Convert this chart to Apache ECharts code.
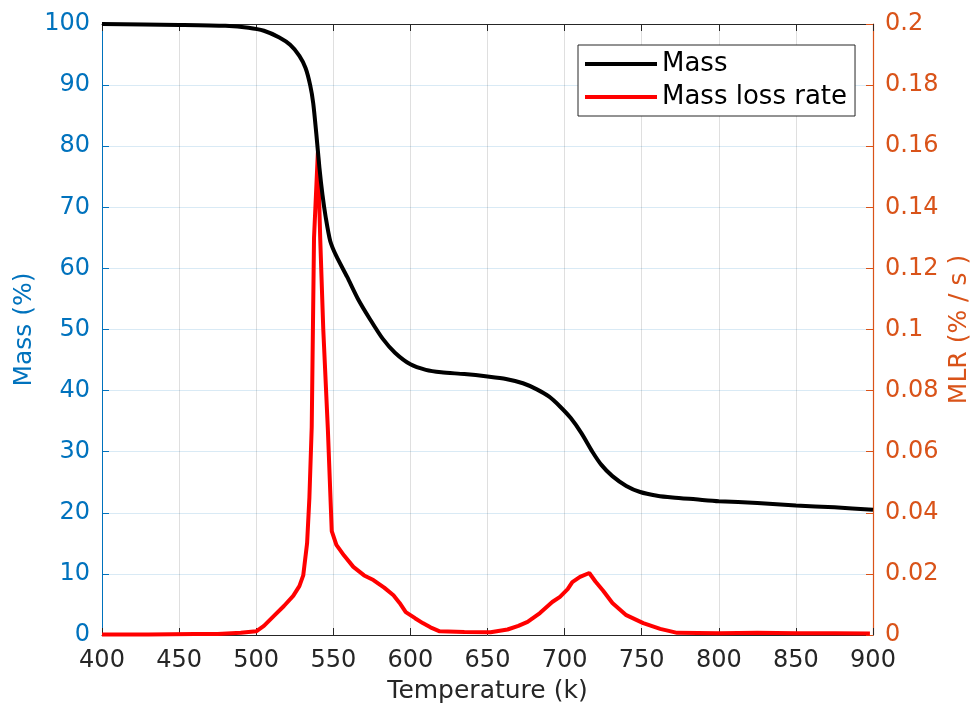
<!DOCTYPE html>
<html>
<head>
<meta charset="utf-8">
<script src="https://cdn.jsdelivr.net/npm/echarts@6/dist/echarts.min.js"></script>
<style>html,body{margin:0;padding:0;background:#fff;}#c{width:975px;height:706px;}</style>
</head>
<body>
<div id="c"></div>
<script>
// Mass curve (Temperature K, Mass %)
const massT   = [400,450,480,495,505,515,522,528,532,535,537,539,541,543,545,548,552,559,566,574,582,590,600,610,620,635,650,662,673,682,690,697,704,711,718,724,731,740,749,760,770,785,800,825,850,875,900];
const massVal = [100,99.85,99.7,99.4,98.9,97.8,96.6,94.8,92.8,90,87,82,76.5,72,68.5,64.5,62,58.6,55,51.6,48.5,46.2,44.3,43.4,43,42.7,42.3,41.9,41.2,40.2,39,37.4,35.5,33,30,27.8,26,24.4,23.4,22.8,22.5,22.2,21.9,21.6,21.2,20.9,20.5];
// Mass loss rate (Temperature K, MLR %/s)
const mlrT   = [400,430,460,475,490,500,505,512,518,524,528,530.5,533,534.5,536,537.5,540,541.5,543.5,546.5,549,552,557,563,570,576,583,589,593,597,603,608,613,619,635,652,663,670,676,684,692,697,702,705,710,716,720,725,731,740,751,762,773,800,825,850,875,898];
const mlrVal = [0.0002,0.0002,0.0003,0.0003,0.0007,0.0012,0.003,0.0065,0.0095,0.0128,0.016,0.0195,0.03,0.045,0.068,0.13,0.158,0.13,0.1,0.067,0.034,0.0295,0.026,0.0223,0.0195,0.018,0.0155,0.013,0.0105,0.0075,0.0055,0.0039,0.0025,0.0012,0.001,0.0009,0.0018,0.003,0.0043,0.0072,0.0108,0.0125,0.015,0.0173,0.019,0.0203,0.0175,0.0145,0.0105,0.0065,0.0039,0.002,0.0007,0.0006,0.0007,0.0006,0.0006,0.0005];
const xTicks = [400,450,500,550,600,650,700,750,800,850,900];
const seriesNames = ['Mass','Mass loss rate'];

const FONT = 'DejaVu Sans';
const BLUE = '#0072BD', ORANGE = '#D95319', DARK = '#262626';

const chart = echarts.init(document.getElementById('c'), null, {renderer:'canvas'});
chart.setOption({
  animation: false,
  backgroundColor: '#fff',
  grid: {left: 102, right: 102, top: 24, bottom: 71, containLabel: false, outerBoundsMode: 'none'},
  legend: {
    data: seriesNames,
    orient: 'vertical',
    left: 578, top: 45,
    padding: [6, 8, 6, 7],
    itemGap: 7,
    itemWidth: 72, itemHeight: 4,
    icon: 'rect',
    backgroundColor: '#fff',
    borderColor: DARK, borderWidth: 1,
    textStyle: {fontFamily: FONT, fontSize: 26, color: '#000'}
  },
  xAxis: [{
    type: 'value', min: xTicks[0], max: xTicks[xTicks.length-1], interval: 50,
    position: 'bottom',
    name: 'Temperature (k)', nameLocation: 'middle', nameGap: 44, nameMoveOverlap: false,
    nameTextStyle: {fontFamily: FONT, fontSize: 25, color: DARK},
    axisLine: {show: true, onZero: false, lineStyle: {color: DARK, width: 1}},
    axisTick: {show: true, inside: true, length: 7, lineStyle: {color: DARK}},
    axisLabel: {fontFamily: FONT, fontSize: 24, color: DARK, margin: 14},
    splitLine: {show: true, showMinLine: false, showMaxLine: false, lineStyle: {color: 'rgba(38,38,38,0.15)', width: 1}}
  },{
    type: 'value', min: xTicks[0], max: xTicks[xTicks.length-1], interval: 50,
    position: 'top',
    axisLine: {show: true, onZero: false, lineStyle: {color: DARK, width: 1}},
    axisTick: {show: true, inside: true, length: 7, lineStyle: {color: DARK}},
    axisLabel: {show: false},
    splitLine: {show: false}
  }],
  yAxis: [{
    type: 'value', min: 0, max: 100, interval: 10, position: 'left',
    name: 'Mass (%)', nameLocation: 'middle', nameGap: 65, nameRotate: 90, nameMoveOverlap: false,
    nameTextStyle: {fontFamily: FONT, fontSize: 25, color: BLUE},
    axisLine: {show: true, onZero: false, lineStyle: {color: BLUE, width: 1}},
    axisTick: {show: true, inside: true, length: 7, lineStyle: {color: BLUE}},
    axisLabel: {fontFamily: FONT, fontSize: 24, color: BLUE, margin: 12},
    splitLine: {show: true, showMinLine: false, showMaxLine: false, lineStyle: {color: 'rgba(0,114,189,0.15)', width: 1}}
  },{
    type: 'value', min: 0, max: 0.2, interval: 0.02, position: 'right',
    name: 'MLR (% / s )', nameLocation: 'middle', nameGap: 74, nameRotate: 90, nameMoveOverlap: false,
    nameTextStyle: {fontFamily: FONT, fontSize: 25, color: ORANGE},
    axisLine: {show: true, onZero: false, lineStyle: {color: ORANGE, width: 1.2}},
    axisTick: {show: true, inside: true, length: 7, lineStyle: {color: ORANGE}},
    axisLabel: {fontFamily: FONT, fontSize: 24, color: ORANGE, margin: 12,
      formatter: v => String(Math.round(v*100)/100)},
    splitLine: {show: false}
  }],
  series: [{
    name: seriesNames[0], type: 'line', xAxisIndex: 0, yAxisIndex: 0,
    data: massT.map((t,i) => [t, massVal[i]]),
    showSymbol: false, symbol: 'none',
    smooth: 0.25,
    lineStyle: {color: '#000', width: 4},
    itemStyle: {color: '#000'}, z: 3
  },{
    name: seriesNames[1], type: 'line', xAxisIndex: 0, yAxisIndex: 1,
    data: mlrT.map((t,i) => [t, mlrVal[i]]),
    showSymbol: false, symbol: 'none',
    lineStyle: {color: '#FF0000', width: 4},
    itemStyle: {color: '#FF0000'}, z: 2
  }]
});
</script>
</body>
</html>
